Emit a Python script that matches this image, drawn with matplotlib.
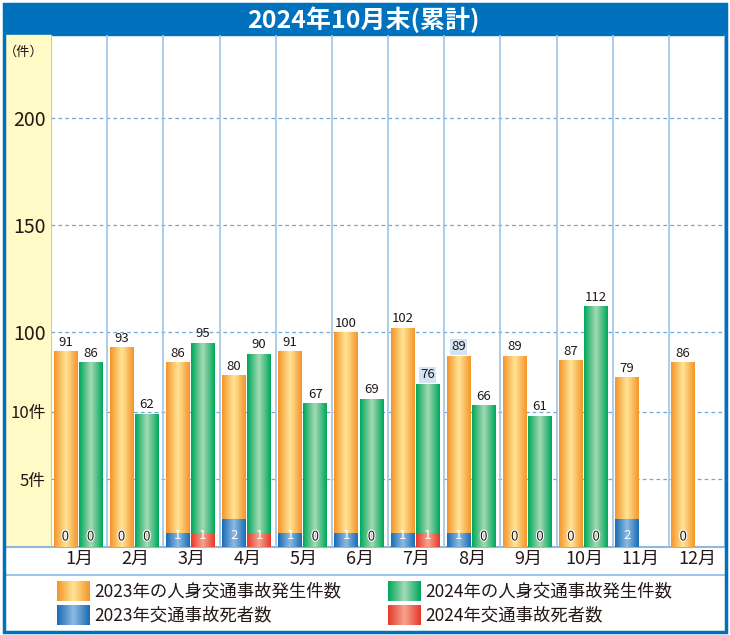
import numpy as np
import matplotlib
matplotlib.use("Agg")
import matplotlib.pyplot as plt
from matplotlib.colors import LinearSegmentedColormap
from matplotlib.patches import Rectangle
from matplotlib.lines import Line2D
import matplotlib.patheffects as pe

plt.rcParams['font.family'] = ['Noto Sans CJK JP', 'DejaVu Sans']

# data
months = ['1月', '2月', '3月', '4月', '5月', '6月', '7月', '8月', '9月', '10月', '11月', '12月']
acc_2023 = [91, 93, 86, 80, 91, 100, 102, 89, 89, 87, 79, 86]
acc_2024 = [86, 62, 95, 90, 67, 69, 76, 66, 61, 112]
dead_2023 = [0, 0, 1, 2, 1, 1, 1, 1, 0, 0, 2, 0]
dead_2024 = [0, 0, 1, 1, 0, 0, 1, 0, 0, 0]
acc_ticks = [100, 150, 200]
dead_ticks = [5, 10]
title = '2024年10月末(累計)'
legend_labels = ['2023年の人身交通事故発生件数', '2024年の人身交通事故発生件数',
                 '2023年交通事故死者数', '2024年交通事故死者数']
highlight = {('2023', 7), ('2024', 6)}   # labels with light blue box

DEAD_SCALE = 6.3   # accidents-axis units per death
YMAX = 238.7

W, H = 730, 635
BLUE = '#0071BC'
LINE = '#9DC5E8'
TXT = '#231815'

GRADS = {
    'orange': LinearSegmentedColormap.from_list('o', ['#F5952A', '#FFE596', '#F5952A']),
    'green': LinearSegmentedColormap.from_list('g', ['#00A85A', '#A6DAB6', '#00A85A']),
    'blue': LinearSegmentedColormap.from_list('b', ['#1A6DB6', '#8EBAE2', '#1A6DB6']),
    'red': LinearSegmentedColormap.from_list('r', ['#E53A2C', '#F7A48E', '#E53A2C']),
}
grad = np.linspace(0, 1, 64).reshape(1, -1)


def fx(px):
    return px / W


def fy(py):
    return 1 - py / H


def fill_gradient(ax, patches, cmap, z):
    for p in patches:
        x, y = p.get_x(), p.get_y()
        w, h = p.get_width(), p.get_height()
        if h <= 0:
            continue
        ax.imshow(grad, extent=[x, x + w, y, y + h], cmap=cmap, aspect='auto',
                  interpolation='bilinear', zorder=z)


fig = plt.figure(figsize=(W / 100, H / 100), dpi=100)

# frame, title band, yellow column
fig.patches.append(Rectangle((fx(4), fy(35)), fx(722), fy(4) - fy(35),
                             transform=fig.transFigure, color=BLUE, zorder=1))
fig.patches.append(Rectangle((fx(4), fy(547)), fx(47), fy(35) - fy(547),
                             transform=fig.transFigure, color='#FFFAC6', zorder=1))
fig.patches.append(Rectangle((fx(3.5), fy(632)), fx(722.5), fy(4) - fy(632), fill=False,
                             transform=fig.transFigure, edgecolor=BLUE, lw=2.5, zorder=5))
fig.lines.append(Line2D([fx(4), fx(726)], [fy(575), fy(575)], transform=fig.transFigure,
                        color=LINE, lw=1.5, zorder=2))
fig.lines.append(Line2D([fx(4), fx(726)], [fy(547), fy(547)], transform=fig.transFigure,
                        color='#8DB9E0', lw=1.5, zorder=2))
fig.text(fx(363), fy(20), title, color='white', fontsize=18, fontweight='bold',
         ha='center', va='center')
fig.text(fx(44), fy(52), '（件）', color=TXT, fontsize=9.5, ha='right', va='center')

ax = fig.add_axes([fx(51), fy(546.7), fx(725) - fx(51), fy(35) - fy(546.7)])
ax.set_zorder(3)
ax.patch.set_alpha(0)
n = len(months)
xc = np.arange(n) + 0.5
off_a, off_b, bw = -0.245, 0.205, 0.42

x23 = xc + off_a
x24 = xc[:len(acc_2024)] + off_b

b23 = ax.bar(x23, acc_2023, bw, color='none', zorder=2)
b24 = ax.bar(x24, acc_2024, bw, color='none', zorder=2)
fill_gradient(ax, b23, GRADS['orange'], 2)
fill_gradient(ax, b24, GRADS['green'], 2)

d23 = ax.bar(x23, np.array(dead_2023) * DEAD_SCALE, bw, color='none', zorder=3)
d24 = ax.bar(x24, np.array(dead_2024) * DEAD_SCALE, bw, color='none', zorder=3)
fill_gradient(ax, d23, GRADS['blue'], 3)
fill_gradient(ax, d24, GRADS['red'], 3)

# value labels
for tag, xs, vals, deads in [('2023', x23, acc_2023, dead_2023), ('2024', x24, acc_2024, dead_2024)]:
    for i, (x, v, d) in enumerate(zip(xs, vals, deads)):
        box = None
        if (tag, i) in highlight:
            box = dict(boxstyle='square,pad=0.1', fc='#D3E4F5', ec='none')
        ax.text(x, v + 1.2, str(v), ha='center', va='bottom', fontsize=9.5,
                color=TXT, bbox=box, zorder=5)
        if d > 0:
            ax.text(x, 2.2, str(d), ha='center', va='bottom', fontsize=9.5, color='white',
                    zorder=5)
        else:
            ax.text(x, 1.5, str(d), ha='center', va='bottom', fontsize=9.5, color=TXT,
                    path_effects=[pe.withStroke(linewidth=1.5, foreground='white')], zorder=5)

# grid lines
for t in acc_ticks:
    ax.axhline(t, color='#6FA8DA', lw=0.9, ls=(0, (3, 2.5)), zorder=1)
for t in dead_ticks:
    ax.axhline(t * DEAD_SCALE, color='#6FA8DA', lw=0.9, ls=(0, (3, 2.5)), zorder=1)
for k in range(n + 1):
    ax.axvline(k, color=LINE, lw=1.2, zorder=1)

ax.set_xlim(0, n)
ax.set_ylim(0, YMAX)
yt = [t * DEAD_SCALE for t in dead_ticks] + acc_ticks
ylab = [f'{t}件' for t in dead_ticks] + [str(t) for t in acc_ticks]
ax.set_yticks(yt)
ax.set_yticklabels(ylab, color=TXT)
for lab, t in zip(ax.get_yticklabels(), yt):
    lab.set_fontsize(14 if t in acc_ticks else 12)
ax.tick_params(axis='y', length=0, pad=4)
ax.set_xticks(xc)
ax.set_xticklabels(months, fontsize=13, color=TXT)
ax.tick_params(axis='x', length=0, pad=2)
for s in ['top', 'right', 'left', 'bottom']:
    ax.spines[s].set_visible(False)

# legend drawn by hand with gradient swatches
lg = fig.add_axes([0, 0, 1, 1])
lg.axis('off')
lg.set_zorder(4)
swatches = [('orange', 57, 591), ('green', 388, 591), ('blue', 57, 615), ('red', 388, 615)]
for (key, sx, sy), label in zip(swatches, legend_labels):
    lg.imshow(grad, extent=[sx, sx + 33, sy + 10, sy - 10], cmap=GRADS[key],
              aspect='auto', interpolation='bilinear')
    lg.text(sx + 37, sy, label, fontsize=12.5, color=TXT, va='center', ha='left')
lg.set_xlim(0, W)
lg.set_ylim(H, 0)

fig.savefig('out.png', dpi=100)
